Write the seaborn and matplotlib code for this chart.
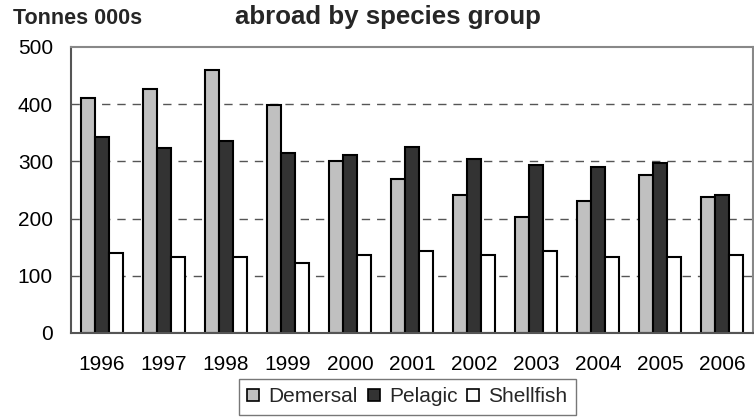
import matplotlib
matplotlib.use("Agg")
import matplotlib.pyplot as plt
import seaborn as sns
import pandas as pd
from matplotlib.patches import Patch

years = ["1996", "1997", "1998", "1999", "2000", "2001", "2002", "2003", "2004", "2005", "2006"]
demersal = [410, 427, 459, 399, 301, 269, 242, 203, 231, 277, 238]
pelagic = [343, 323, 336, 315, 312, 326, 305, 294, 291, 298, 242]
shellfish = [140, 133, 133, 123, 136, 143, 136, 143, 133, 133, 136]
series = ["Demersal", "Pelagic", "Shellfish"]
colors = ["#c0c0c0", "#333333", "#ffffff"]

df = pd.DataFrame({
    "year": years * 3,
    "value": demersal + pelagic + shellfish,
    "species": [series[0]] * len(years) + [series[1]] * len(years) + [series[2]] * len(years),
})

sns.set_style("white")
plt.rcParams["font.family"] = ["Liberation Sans", "DejaVu Sans"]

fig = plt.figure(figsize=(7.54, 4.18), dpi=100)
ax = fig.add_axes([71 / 754, 1 - 333 / 418, (753 - 71) / 754, (333 - 47) / 418])

sns.barplot(data=df, x="year", y="value", hue="species", palette=colors,
            width=0.69, gap=0, edgecolor="black", linewidth=1.5,
            ax=ax, legend=False, errorbar=None, saturation=1)

ax.set_ylim(0, 500)
ax.set_xlim(-0.5, 10.5)
ax.set_yticks([0, 100, 200, 300, 400, 500])
ax.set_xlabel("")
ax.set_ylabel("")
ax.tick_params(axis="both", length=0, labelsize=15, colors="black")
ax.tick_params(axis="x", pad=16)
ax.tick_params(axis="y", pad=13)
for y in [100, 200, 300, 400]:
    ax.axhline(y, color="#555555", linestyle=(0, (6, 5)), linewidth=1.0, zorder=0)
ax.set_axisbelow(True)
for s in ["top", "right"]:
    ax.spines[s].set_color("#888888")
    ax.spines[s].set_linewidth(1.5)
ax.spines["left"].set_color("#555555")
ax.spines["left"].set_linewidth(1.5)
ax.spines["bottom"].set_color("#555555")
ax.spines["bottom"].set_linewidth(1.5)

fig.text(13 / 754, 1 - 24 / 418, "Tonnes 000s", fontsize=15.5, fontweight="bold",
         va="baseline", ha="left")
fig.text(235 / 754, 1 - 24 / 418, "abroad by species group", fontsize=18.6,
         fontweight="bold", va="baseline", ha="left")

handles = [Patch(facecolor=c, edgecolor="black", linewidth=1.2) for c in colors]
leg = fig.legend(handles, series, loc="upper left", bbox_to_anchor=(239 / 754, 1 - 379 / 418),
                 ncol=3, fontsize=15, frameon=True, fancybox=False, handlelength=0.58,
                 handleheight=0.53, handletextpad=0.43, columnspacing=0.48, borderpad=0.4,
                 borderaxespad=0)
leg.get_frame().set_edgecolor("#555555")
leg.get_frame().set_linewidth(1.0)

fig.savefig("out.png", dpi=100)
